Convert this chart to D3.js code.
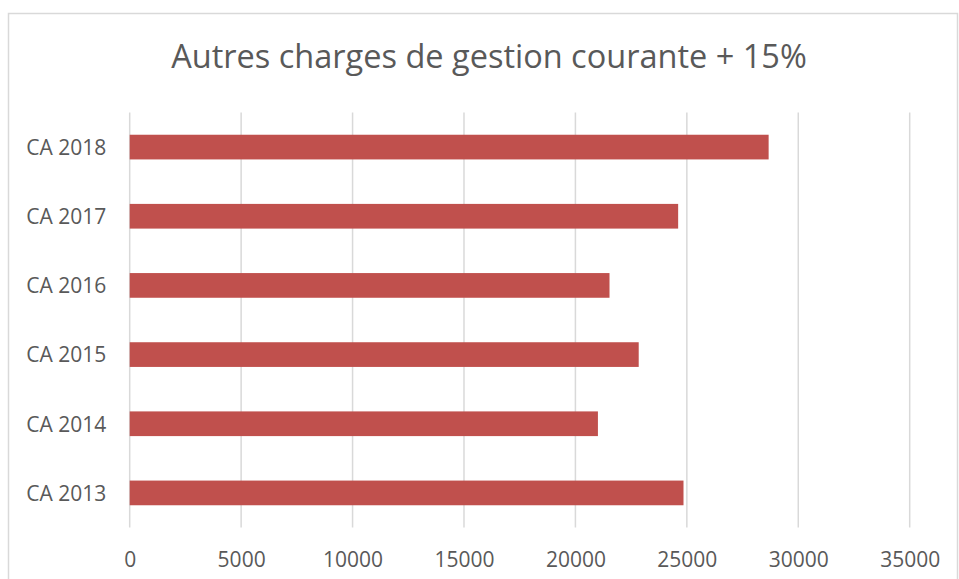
<!DOCTYPE html>
<html>
<head>
<meta charset="utf-8">
<script src="https://cdn.jsdelivr.net/npm/d3@7"></script>
<style>
  body { margin: 0; background: #fff; }
  svg { display: block; font-family: "Open Sans", sans-serif; }
</style>
</head>
<body>
<svg id="chart_svg"></svg>
<script>
const categories = ["CA 2013", "CA 2014", "CA 2015", "CA 2016", "CA 2017", "CA 2018"];
const values = [24850, 21010, 22840, 21530, 24610, 28670];
const xTicks = [0, 5000, 10000, 15000, 20000, 25000, 30000, 35000];
const title = "Autres charges de gestion courante + 15%";

const width = 959,
  height = 579;

const plot = { left: 129.7, right: 909.7, top: 112.5, bottom: 527.5 };

var svg = d3.select("#chart_svg")
  .attr("width", width)
  .attr("height", height);

// chart frame
svg.append("rect")
  .attr("x", 8.5)
  .attr("y", 13.5)
  .attr("width", 949)
  .attr("height", 600)
  .attr("fill", "#fff")
  .attr("stroke", "#d9d9d9")
  .attr("stroke-width", 1.5);

// Title
svg.append("text")
  .attr("x", 489)
  .attr("y", 67.5)
  .attr("text-anchor", "middle")
  .style("font-size", "32.5px")
  .style("fill", "#595959")
  .text(title);

var x = d3.scaleLinear()
  .domain([0, 35000])
  .range([plot.left, plot.right]);

var y = d3.scaleBand()
  .domain(categories.slice().reverse())
  .range([plot.top, plot.bottom])
  .paddingInner(0.643)
  .paddingOuter(0.3215);

// Gridlines
svg.append("g")
  .selectAll("line")
  .data(xTicks)
  .join("line")
  .attr("x1", d => x(d))
  .attr("x2", d => x(d))
  .attr("y1", plot.top)
  .attr("y2", plot.bottom)
  .attr("stroke", "#d9d9d9")
  .attr("stroke-width", 1.5);

// X axis labels
var xAxis = d3.axisBottom(x)
  .tickValues(xTicks)
  .tickFormat(d3.format("d"))
  .tickSize(0)
  .tickPadding(0);

var xg = svg.append("g")
  .attr("transform", `translate(0, ${plot.bottom})`)
  .call(xAxis);
xg.select(".domain").remove();
xg.selectAll("text")
  .attr("y", 39.5)
  .attr("dy", null)
  .style("font-family", "Open Sans, sans-serif")
  .style("font-size", "21px")
  .style("fill", "#595959");

// Y axis labels
var yAxis = d3.axisLeft(y)
  .tickSize(0)
  .tickPadding(23.5);

var yg = svg.append("g")
  .attr("transform", `translate(${plot.left}, 0)`)
  .call(yAxis);
yg.select(".domain").remove();
yg.selectAll("text")
  .attr("dy", "0.37em")
  .style("font-family", "Open Sans, sans-serif")
  .style("font-size", "21px")
  .style("fill", "#595959");

// Bars
svg.append("g")
  .selectAll("rect")
  .data(categories)
  .join("rect")
  .attr("x", x(0))
  .attr("y", d => y(d))
  .attr("width", (d, i) => x(values[i]) - x(0))
  .attr("height", y.bandwidth())
  .attr("fill", "#c0504d");
</script>
</body>
</html>
